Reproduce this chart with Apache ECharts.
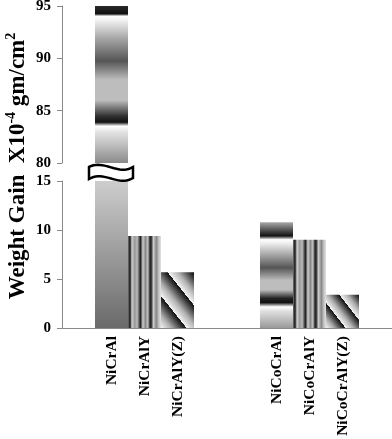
<!DOCTYPE html>
<html>
<head>
<meta charset="utf-8">
<script src="https://cdn.jsdelivr.net/npm/echarts@6/dist/echarts.min.js"></script>
<style>
html,body{margin:0;padding:0;background:#fff;}
#chart{width:392px;height:439px;}
</style>
</head>
<body>
<div id="chart"></div>
<script>
// ---- data ----
var alloys = ['NiCrAl', 'NiCrAlY', 'NiCrAlY(Z)', 'NiCoCrAl', 'NiCoCrAlY', 'NiCoCrAlY(Z)'];
var weightGain = [95, 9.4, 5.7, 10.8, 9.0, 3.4];
var upperTicks = [80, 85, 90, 95];
var lowerTicks = [0, 5, 10, 15];

// ---- layout of slots (two groups with a gap) ----
var slotOf = [1, 2, 3, 6, 7, 8];
var nSlots = 10;
var categories = [];
for (var i = 0; i < nSlots; i++) categories.push('');
alloys.forEach(function (a, k) { categories[slotOf[k]] = a; });

function lg(x, y, x2, y2, stops) {
  return { type: 'linear', x: x, y: y, x2: x2, y2: y2, global: false,
    colorStops: stops.map(function (s) { return { offset: s[0], color: s[1] }; }) };
}
var bandsUpper = lg(0, 0, 0, 1, [
  [0, '#2a2a2a'], [0.05, '#111'], [0.065, '#fff'], [0.09, '#f2f2f2'], [0.2, '#aaa'],
  [0.35, '#555'], [0.47, '#bdbdbd'], [0.6, '#bdbdbd'], [0.7, '#333'], [0.74, '#111'],
  [0.765, '#fff'], [0.8, '#e4e4e4'], [1, '#8a8a8a']
]);
var lowerSolid = lg(0, 0, 0, 1, [[0, '#cdcdcd'], [1, '#6a6a6a']]);
var bandsCo = lg(0, 0, 0, 1, [
  [0, '#aaa'], [0.13, '#111'], [0.165, '#fff'], [0.2, '#eee'], [0.43, '#555'],
  [0.55, '#bdbdbd'], [0.64, '#bdbdbd'], [0.72, '#222'], [0.76, '#111'], [0.8, '#fff'],
  [0.84, '#e0e0e0'], [1, '#999']
]);
function stripes() {
  return lg(0, 0, 1, 0, [
    [0, '#777'], [0.06, '#111'], [0.12, '#d0d0d0'], [0.2, '#999'], [0.28, '#bbb'],
    [0.34, '#555'], [0.38, '#222'], [0.45, '#ccc'], [0.53, '#888'], [0.6, '#c4c4c4'],
    [0.66, '#333'], [0.7, '#222'], [0.77, '#ccc'], [0.86, '#888'], [0.94, '#c8c8c8'], [1, '#e0e0e0']
  ]);
}
function diag(x2, y2) {
  var st = [];
  var n = 3;
  for (var c = 0; c < n; c++) {
    var a = c / n, b = (c + 1) / n, w = b - a;
    st.push([a + 0.001, '#f4f4f4']);
    st.push([a + w * 0.4, '#b0b0b0']);
    st.push([a + w * 0.85, '#333']);
    st.push([b - 0.002, '#111']);
  }
  return lg(0, 1, x2, y2, st);
}
var lowerStyles = [lowerSolid, stripes(), diag(1.42, 0.33), bandsCo, stripes(), diag(1.11, 0.145)];

var upperData = [], lowerData = [];
for (var i = 0; i < nSlots; i++) { upperData.push(null); lowerData.push(null); }
weightGain.forEach(function (v, k) {
  lowerData[slotOf[k]] = { value: v, itemStyle: { color: lowerStyles[k] } };
  if (v > upperTicks[0]) upperData[slotOf[k]] = { value: v, itemStyle: { color: bandsUpper } };
});

var font = '"Liberation Serif", "Times New Roman", serif';
function yAxisOpt(grid, ticks) {
  return {
    type: 'value', gridIndex: grid, min: ticks[0], max: ticks[ticks.length - 1], interval: 5,
    axisLine: { show: true, lineStyle: { color: '#8a8a8a', width: 1 } },
    axisTick: { show: true, length: 5, lineStyle: { color: '#8a8a8a' } },
    axisLabel: { color: '#000', fontFamily: font, fontWeight: 'bold', fontSize: 15, margin: 11 },
    splitLine: { show: false }
  };
}

// break symbol outline (wavy band)
function bez(p0, p1, p2, p3, n) {
  var out = [];
  for (var i = 0; i <= n; i++) {
    var t = i / n, u = 1 - t;
    out.push([
      u*u*u*p0[0] + 3*u*u*t*p1[0] + 3*u*t*t*p2[0] + t*t*t*p3[0],
      u*u*u*p0[1] + 3*u*u*t*p1[1] + 3*u*t*t*p2[1] + t*t*t*p3[1]
    ]);
  }
  return out;
}
var breakPts = bez([89,167],[104,159],[118,176],[133,167],20)
  .concat(bez([133,178],[118,187],[104,170],[89,179],20));

var chart = echarts.init(document.getElementById('chart'), null, { renderer: 'canvas' });
chart.setOption({
  animation: false,
  backgroundColor: '#fff',
  grid: [
    { left: 62, right: 0, top: 6, height: 157, outerBoundsMode: 'none', containLabel: false },
    { left: 62, right: 0, top: 181, height: 147, outerBoundsMode: 'none', containLabel: false }
  ],
  xAxis: [
    { type: 'category', gridIndex: 0, data: categories, show: false },
    {
      type: 'category', gridIndex: 1, data: categories,
      axisLine: { show: true, lineStyle: { color: '#8a8a8a', width: 1 } },
      axisTick: { show: false },
      axisLabel: { interval: 0, rotate: 90, color: '#000', fontFamily: font, fontWeight: 'bold', fontSize: 15.5, margin: 8 }
    }
  ],
  yAxis: [yAxisOpt(0, upperTicks), yAxisOpt(1, lowerTicks)],
  series: [
    { type: 'bar', xAxisIndex: 0, yAxisIndex: 0, data: upperData, barWidth: '100%', clip: true },
    { type: 'bar', xAxisIndex: 1, yAxisIndex: 1, data: lowerData, barWidth: '100%', clip: true }
  ],
  graphic: [
    {
      type: 'polygon', z: 100,
      shape: { points: breakPts },
      style: { fill: '#fff', stroke: '#000', lineWidth: 2.5 }
    },
    {
      type: 'text', x: 17, y: 166, rotation: Math.PI / 2, z: 100,
      style: {
        text: '{n|Weight Gain  X10}{s|-4}{n| gm/cm}{s|2}',
        align: 'center', verticalAlign: 'middle',
        rich: {
          n: { fontFamily: font, fontWeight: 'bold', fontSize: 23, fill: '#000', lineHeight: 26, verticalAlign: 'bottom' },
          s: { fontFamily: font, fontWeight: 'bold', fontSize: 14, fill: '#000', lineHeight: 26, verticalAlign: 'top', padding: [0, 0, 10, 0] }
        }
      }
    }
  ]
});
</script>
</body>
</html>
